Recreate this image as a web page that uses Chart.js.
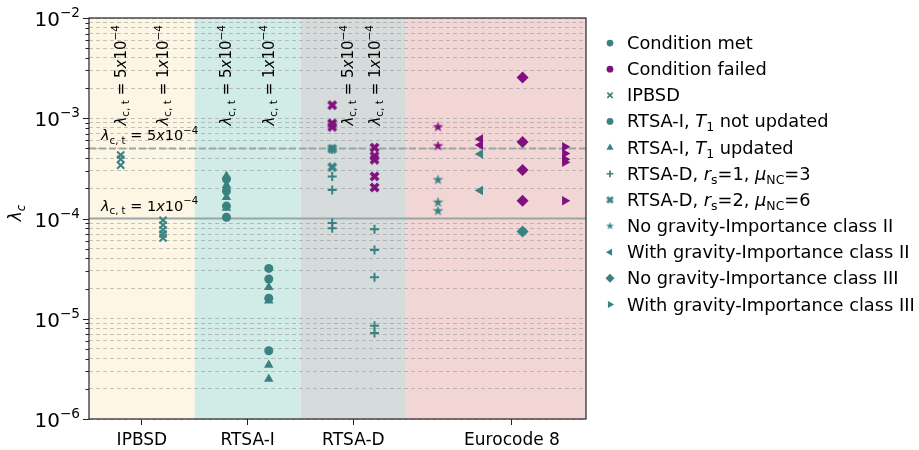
<!DOCTYPE html>
<html>
<head>
<meta charset="utf-8">
<script src="https://cdn.jsdelivr.net/npm/chart.js@4/dist/chart.umd.min.js"></script>
<style>
  html, body { margin: 0; padding: 0; background: #fff; }
</style>
</head>
<body>
<canvas id="chart" width="919" height="450"></canvas>
<script>
const TEAL = '#3a8282';
const PURPLE = '#7f117f';
const FONT = '"DejaVu Sans", sans-serif';

const categories = ['IPBSD', 'RTSA-I', 'RTSA-D', 'Eurocode 8'];
const categoryPos = [0, 1, 2, 3.5];
const bandEdges = [-0.5, 0.5, 1.5, 2.5, 4.2];
const bandColors = ['#fdf6e4', '#d1ebe6', '#d6dcdc', '#f2d6d5'];

const thresholds = [5e-4, 1e-4];
const thresholdDigits = ['5', '1'];
const vLabelX = [-0.2, 0.2, 0.8, 1.2, 1.95, 2.2];
const vLabelDigits = ['5', '1', '5', '1', '5', '1'];

const yMajors = [1e-6, 1e-5, 1e-4, 1e-3, 1e-2];
const yMajorExp = ['6', '5', '4', '3', '2'];
const yMinorMult = [2, 3, 4, 5, 6, 7, 8, 9];

// [x position, lambda_c]
const ipbsdMet = [[-0.2, 4.3e-4], [-0.2, 3.9e-4], [-0.2, 3.4e-4],
  [0.2, 9.6e-5], [0.2, 8.6e-5], [0.2, 7.7e-5], [0.2, 7.0e-5], [0.2, 6.4e-5]];
const rtsaiNotUpdMet = [[0.8, 2.47e-4], [0.8, 1.88e-4], [0.8, 1.33e-4], [0.8, 1.03e-4],
  [1.2, 3.18e-5], [1.2, 2.49e-5], [1.2, 1.6e-5], [1.2, 4.8e-6]];
const rtsaiUpdMet = [[0.8, 2.65e-4], [0.8, 2.15e-4], [0.8, 1.63e-4], [0.8, 1.27e-4],
  [1.2, 2.06e-5], [1.2, 1.51e-5], [1.2, 3.45e-6], [1.2, 2.5e-6]];
const rtsadRs1Met = [[1.8, 4.9e-4], [1.8, 2.63e-4], [1.8, 1.92e-4], [1.8, 9.0e-5], [1.8, 8.0e-5],
  [2.2, 7.8e-5], [2.2, 4.85e-5], [2.2, 2.6e-5], [2.2, 8.5e-6], [2.2, 7.2e-6]];
const rtsadRs2Met = [[1.8, 4.95e-4], [1.8, 3.25e-4]];
const rtsadRs2Fail = [[1.8, 1.35e-3], [1.8, 8.9e-4], [1.8, 8.2e-4],
  [2.2, 5.1e-4], [2.2, 4.2e-4], [2.2, 3.85e-4], [2.2, 2.63e-4], [2.2, 2.04e-4]];
const noGravIIMet = [[2.8, 2.43e-4], [2.8, 1.45e-4], [2.8, 1.19e-4]];
const noGravIIFail = [[2.8, 8.2e-4], [2.8, 5.3e-4]];
const gravIIMet = [[3.2, 4.4e-4], [3.2, 1.9e-4]];
const gravIIFail = [[3.2, 6.2e-4], [3.2, 5.4e-4]];
const noGravIIIMet = [[3.6, 7.4e-5]];
const noGravIIIFail = [[3.6, 2.55e-3], [3.6, 5.8e-4], [3.6, 3.05e-4], [3.6, 1.5e-4]];
const gravIIIFail = [[4.0, 5.2e-4], [4.0, 4.45e-4], [4.0, 3.9e-4], [4.0, 3.65e-4], [4.0, 1.5e-4]];

// custom filled markers (matplotlib 'X' and '*')
function makeMarker(kind, color, k) {
  const c = document.createElement('canvas');
  c.width = 13; c.height = 13;
  const g = c.getContext('2d');
  g.translate(6.5, 6.5);
  g.scale(k, k);
  g.fillStyle = color;
  g.beginPath();
  if (kind === 'xfill') {
    g.rotate(Math.PI / 4);
    const L = 5.3, w = 1.8;
    const pts = [[-w,-L],[w,-L],[w,-w],[L,-w],[L,w],[w,w],[w,L],[-w,L],[-w,w],[-L,w],[-L,-w],[-w,-w]];
    pts.forEach((p, i) => i ? g.lineTo(p[0], p[1]) : g.moveTo(p[0], p[1]));
  } else {
    const R = 5.6, r = R * 0.382;
    for (let i = 0; i < 10; i++) {
      const a = -Math.PI / 2 + i * Math.PI / 5;
      const rr = i % 2 ? r : R;
      i ? g.lineTo(rr * Math.cos(a), rr * Math.sin(a)) : g.moveTo(rr * Math.cos(a), rr * Math.sin(a));
    }
  }
  g.closePath();
  g.fill();
  return c;
}

// k = scale (1 in the plot, smaller in the legend)
const marker = {
  x:       (color, k) => ({ pointStyle: 'crossRot', radius: 5 * k, rotation: 0, borderWidth: 2 }),
  circle:  (color, k) => ({ pointStyle: 'circle', radius: 4.5 * k, rotation: 0, borderWidth: 0 }),
  tri:     (color, k) => ({ pointStyle: 'triangle', radius: 5.5 * k, rotation: 0, borderWidth: 0 }),
  plus:    (color, k) => ({ pointStyle: 'cross', radius: 4.5 * k, rotation: 0, borderWidth: 2 }),
  xfill:   (color, k) => ({ pointStyle: makeMarker('xfill', color, k), radius: 5 * k, rotation: 0, borderWidth: 0 }),
  star:    (color, k) => ({ pointStyle: makeMarker('star', color, k), radius: 5 * k, rotation: 0, borderWidth: 0 }),
  triL:    (color, k) => ({ pointStyle: 'triangle', radius: 5.5 * k, rotation: -90, borderWidth: 0 }),
  diamond: (color, k) => ({ pointStyle: 'rectRot', radius: 6 * k, rotation: 0, borderWidth: 0 }),
  triR:    (color, k) => ({ pointStyle: 'triangle', radius: 5.5 * k, rotation: 90, borderWidth: 0 })
};

function scatterSet(points, kind, color) {
  const m = marker[kind](color, 1);
  return {
    data: points.map(p => ({ x: p[0], y: p[1] })),
    pointStyle: m.pointStyle,
    pointRadius: m.radius,
    pointRotation: m.rotation,
    pointBorderWidth: m.borderWidth,
    pointBackgroundColor: color,
    pointBorderColor: color
  };
}

function lineSet(value, dash) {
  return {
    type: 'line',
    data: [{ x: bandEdges[0], y: value }, { x: bandEdges[bandEdges.length - 1], y: value }],
    showLine: true, pointRadius: 0, borderWidth: 2,
    borderColor: '#98a6a6', borderDash: dash, fill: false
  };
}

const datasets = [
  scatterSet(ipbsdMet, 'x', TEAL),
  scatterSet(rtsaiNotUpdMet, 'circle', TEAL),
  scatterSet(rtsaiUpdMet, 'tri', TEAL),
  scatterSet(rtsadRs1Met, 'plus', TEAL),
  scatterSet(rtsadRs2Met, 'xfill', TEAL),
  scatterSet(rtsadRs2Fail, 'xfill', PURPLE),
  scatterSet(noGravIIMet, 'star', TEAL),
  scatterSet(noGravIIFail, 'star', PURPLE),
  scatterSet(gravIIMet, 'triL', TEAL),
  scatterSet(gravIIFail, 'triL', PURPLE),
  scatterSet(noGravIIIMet, 'diamond', TEAL),
  scatterSet(noGravIIIFail, 'diamond', PURPLE),
  scatterSet(gravIIIFail, 'triR', PURPLE),
  lineSet(thresholds[0], [7, 3]),
  lineSet(thresholds[1], [])
];

// text with sub/superscripts
function drawRich(ctx, parts, x, y, size, measureOnly) {
  let cx = x;
  parts.forEach(p => {
    const s = size * (p.scale || 1);
    ctx.font = (p.it ? 'italic ' : '') + s + 'px ' + FONT;
    if (!measureOnly) ctx.fillText(p.t, cx, y + (p.dy || 0) * size);
    cx += ctx.measureText(p.t).width;
  });
  return cx - x;
}
const SUB = { scale: 0.7, dy: 0.22 };
const SUP = { scale: 0.7, dy: -0.42 };
const lamParts = d => [
  { t: 'λ', it: true }, { t: 'c, t', ...SUB }, { t: ' = ' + d }, { t: 'x', it: true },
  { t: '10' }, { t: '−4', ...SUP }
];

const legendRows = [
  { kind: 'circle', color: TEAL, parts: [{ t: 'Condition met' }] },
  { kind: 'circle', color: PURPLE, parts: [{ t: 'Condition failed' }] },
  { kind: 'x', color: TEAL, parts: [{ t: 'IPBSD' }] },
  { kind: 'circle', color: TEAL, parts: [{ t: 'RTSA-I, ' }, { t: 'T', it: true }, { t: '1', ...SUB }, { t: ' not updated' }] },
  { kind: 'tri', color: TEAL, parts: [{ t: 'RTSA-I, ' }, { t: 'T', it: true }, { t: '1', ...SUB }, { t: ' updated' }] },
  { kind: 'plus', color: TEAL, parts: [{ t: 'RTSA-D, ' }, { t: 'r', it: true }, { t: 's', ...SUB }, { t: '=1, ' }, { t: 'μ', it: true }, { t: 'NC', ...SUB }, { t: '=3' }] },
  { kind: 'xfill', color: TEAL, parts: [{ t: 'RTSA-D, ' }, { t: 'r', it: true }, { t: 's', ...SUB }, { t: '=2, ' }, { t: 'μ', it: true }, { t: 'NC', ...SUB }, { t: '=6' }] },
  { kind: 'star', color: TEAL, parts: [{ t: 'No gravity-Importance class II' }] },
  { kind: 'triL', color: TEAL, parts: [{ t: 'With gravity-Importance class II' }] },
  { kind: 'diamond', color: TEAL, parts: [{ t: 'No gravity-Importance class III' }] },
  { kind: 'triR', color: TEAL, parts: [{ t: 'With gravity-Importance class III' }] }
];

const bandsPlugin = {
  id: 'bands',
  beforeDraw(chart) {
    const { ctx, chartArea: { top, bottom }, scales: { x } } = chart;
    ctx.save();
    bandColors.forEach((c, i) => {
      const x0 = x.getPixelForValue(bandEdges[i]);
      const x1 = x.getPixelForValue(bandEdges[i + 1]);
      ctx.fillStyle = c;
      ctx.fillRect(x0, top, x1 - x0, bottom - top);
    });
    ctx.restore();
  }
};

const annotPlugin = {
  id: 'annot',
  afterDraw(chart) {
    const { ctx, chartArea: { left, right, top, bottom }, scales: { x, y } } = chart;
    ctx.save();
    ctx.fillStyle = '#000';
    ctx.textBaseline = 'alphabetic';
    ctx.textAlign = 'left';

    // frame
    ctx.strokeStyle = '#222';
    ctx.lineWidth = 1.2;
    ctx.strokeRect(left, top, right - left, bottom - top);

    // y ticks and labels
    ctx.lineWidth = 1;
    yMajors.forEach((v, i) => {
      const py = Math.round(y.getPixelForValue(v)) + 0.5;
      ctx.beginPath(); ctx.moveTo(left - 6, py); ctx.lineTo(left, py); ctx.stroke();
      const parts = [{ t: '10' }, { t: '−' + yMajorExp[i], scale: 0.68, dy: -0.45 }];
      const w = drawRich(ctx, parts, 0, 0, 20, true);
      drawRich(ctx, parts, left - 9 - w, py + 7, 20);
      if (i < yMajors.length - 1) {
        yMinorMult.forEach(m => {
          const pm = Math.round(y.getPixelForValue(v * m)) + 0.5;
          ctx.beginPath(); ctx.moveTo(left - 3.5, pm); ctx.lineTo(left, pm); ctx.stroke();
        });
      }
    });

    // y title
    ctx.save();
    ctx.translate(21, 213);
    ctx.rotate(-Math.PI / 2);
    const tParts = [{ t: 'λ', it: true }, { t: 'c', it: true, ...SUB }];
    const tw = drawRich(ctx, tParts, 0, 0, 17, true);
    drawRich(ctx, tParts, -tw / 2, 0, 17);
    ctx.restore();

    // horizontal threshold labels
    thresholds.forEach((v, i) => {
      const py = y.getPixelForValue(v);
      drawRich(ctx, lamParts(thresholdDigits[i]), left + 12, py - 8, 14.5);
    });

    // vertical labels
    vLabelX.forEach((xv, i) => {
      const parts = lamParts(vLabelDigits[i]);
      const w = drawRich(ctx, parts, 0, 0, 15, true);
      ctx.save();
      ctx.translate(x.getPixelForValue(xv) + 5, top + 7 + w);
      ctx.rotate(-Math.PI / 2);
      drawRich(ctx, parts, 0, 0, 15);
      ctx.restore();
    });

    // legend
    legendRows.forEach((row, i) => {
      const cy = 43 + i * 26.15;
      const m = marker[row.kind](row.color, 0.75);
      ctx.save();
      ctx.fillStyle = row.color;
      ctx.strokeStyle = row.color;
      ctx.lineWidth = m.borderWidth * 0.85;
      Chart.helpers.drawPoint(ctx, { pointStyle: m.pointStyle, radius: m.radius, rotation: m.rotation, borderWidth: m.borderWidth }, 610, cy);
      ctx.restore();
      ctx.fillStyle = '#000';
      drawRich(ctx, row.parts, 627, cy + 6, 17.8);
    });
    ctx.restore();
  }
};

Chart.defaults.font.family = FONT;

new Chart(document.getElementById('chart'), {
  type: 'scatter',
  data: { datasets },
  options: {
    responsive: false,
    animation: false,
    devicePixelRatio: 1,
    events: [],
    layout: { padding: { left: 0, right: 333, top: 18, bottom: 0 } },
    plugins: { legend: { display: false }, tooltip: { enabled: false } },
    scales: {
      x: {
        type: 'linear',
        min: bandEdges[0],
        max: bandEdges[bandEdges.length - 1],
        afterBuildTicks: s => { s.ticks = categoryPos.map(v => ({ value: v })); },
        ticks: {
          callback: (v, i) => categories[i],
          font: { size: 17 }, color: '#000', padding: 5,
          maxRotation: 0, autoSkip: false
        },
        grid: { drawOnChartArea: false, drawTicks: true, tickLength: 6, tickColor: '#222' },
        border: { display: false },
        afterFit: s => { s.height = 31; }
      },
      y: {
        type: 'logarithmic',
        min: yMajors[0],
        max: yMajors[yMajors.length - 1],
        afterBuildTicks: s => {
          const vals = [];
          yMajors.forEach((v, i) => {
            vals.push(v);
            if (i < yMajors.length - 1) yMinorMult.forEach(m => vals.push(v * m));
          });
          s.ticks = vals.map(v => ({ value: v }));
        },
        ticks: { display: false },
        grid: { color: 'rgba(150,150,150,0.55)', lineWidth: 1, drawTicks: false },
        border: { display: false, dash: [4, 3] },
        afterFit: s => { s.height = s.height; s.width = 89; }
      }
    }
  },
  plugins: [bandsPlugin, annotPlugin]
});
</script>
</body>
</html>
